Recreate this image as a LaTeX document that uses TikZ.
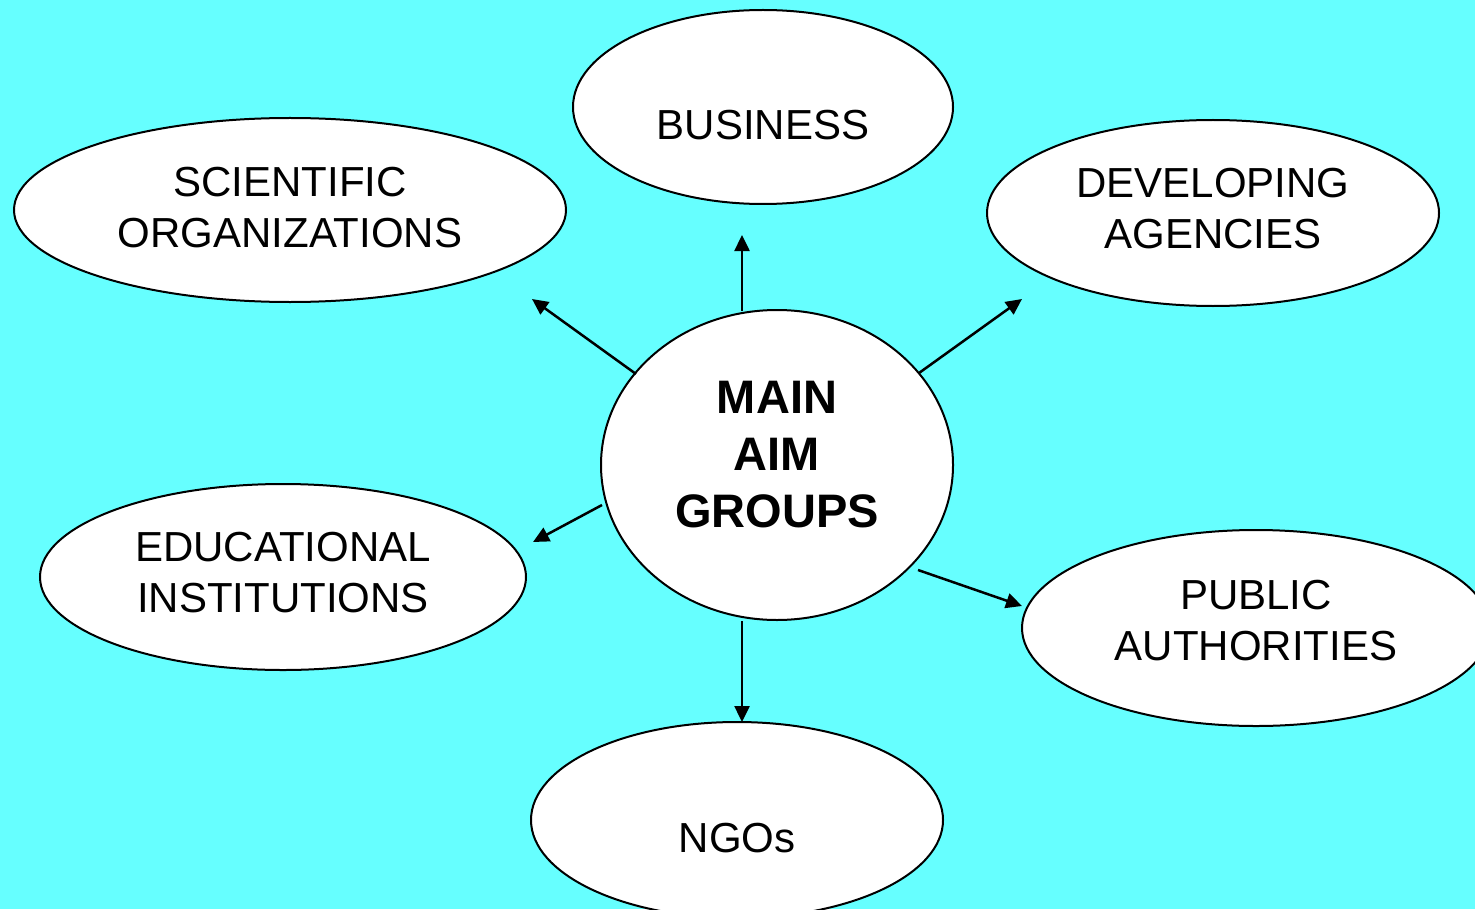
\documentclass[tikz,border=0pt]{standalone}
\usepackage{fontspec}
\setmainfont{Liberation Sans}
\usetikzlibrary{shapes.geometric,arrows.meta}
\definecolor{bgcyan}{RGB}{102,255,255}
\tikzset{
  group/.style={ellipse,draw=black,line width=1pt,fill=white,inner sep=0pt},
  grouptext/.style={align=center,inner sep=0pt,font=\fontsize{21}{25.5}\selectfont},
  maintext/.style={align=center,inner sep=0pt,font=\fontsize{23.5}{28.5}\selectfont\bfseries},
  link/.style={line width=1.25pt,-{Triangle[length=8pt,width=7.5pt]}}
}
\begin{document}
\begin{tikzpicture}[x=0.5pt,y=-0.5pt]
\useasboundingbox (0,0) rectangle (1475,909);
\fill[bgcyan] (0,0) rectangle (1475,909);
\begin{scope}
\clip (0,0) rectangle (1475,909);
\node[group,minimum width=190pt,minimum height=97pt,
  label={[grouptext,yshift=-9pt]center:BUSINESS}] (bus) at (763,107) {};
\node[group,minimum width=276pt,minimum height=92pt,
  label={[grouptext,yshift=1pt]center:SCIENTIFIC\\ORGANIZATIONS}] (sci) at (290,210) {};
\node[group,minimum width=226pt,minimum height=93pt,
  label={[grouptext,yshift=2pt]center:DEVELOPING\\AGENCIES}] (dev) at (1213,213) {};
\node[group,minimum width=243pt,minimum height=93pt,
  label={[grouptext,yshift=2pt]center:EDUCATIONAL\\INSTITUTIONS}] (edu) at (283,577) {};
\node[group,minimum width=234pt,minimum height=98pt,
  label={[grouptext,yshift=3.5pt]center:PUBLIC\\AUTHORITIES}] (pub) at (1256,628) {};
\node[group,minimum width=206pt,minimum height=98pt,
  label={[grouptext,yshift=-9pt]center:NGOs}] (ngo) at (737,820) {};
\node[group,minimum width=176pt,minimum height=155pt,
  label={[maintext,yshift=5pt]center:MAIN\\AIM\\GROUPS}] (main) at (777,465) {};
\end{scope}
\coordinate (a1s) at (742,311); \coordinate (a1e) at (742,235);
\coordinate (a2s) at (636,374); \coordinate (a2e) at (532,299);
\coordinate (a3s) at (919,373); \coordinate (a3e) at (1022,299);
\coordinate (a4s) at (602,505); \coordinate (a4e) at (533,542);
\coordinate (a5s) at (918,570); \coordinate (a5e) at (1022,606);
\coordinate (a6s) at (742,621); \coordinate (a6e) at (742,722);
\draw[link] (a1s) -- (a1e);
\draw[link] (a2s) -- (a2e);
\draw[link] (a3s) -- (a3e);
\draw[link] (a4s) -- (a4e);
\draw[link] (a5s) -- (a5e);
\draw[link] (a6s) -- (a6e);
\end{tikzpicture}
\end{document}
